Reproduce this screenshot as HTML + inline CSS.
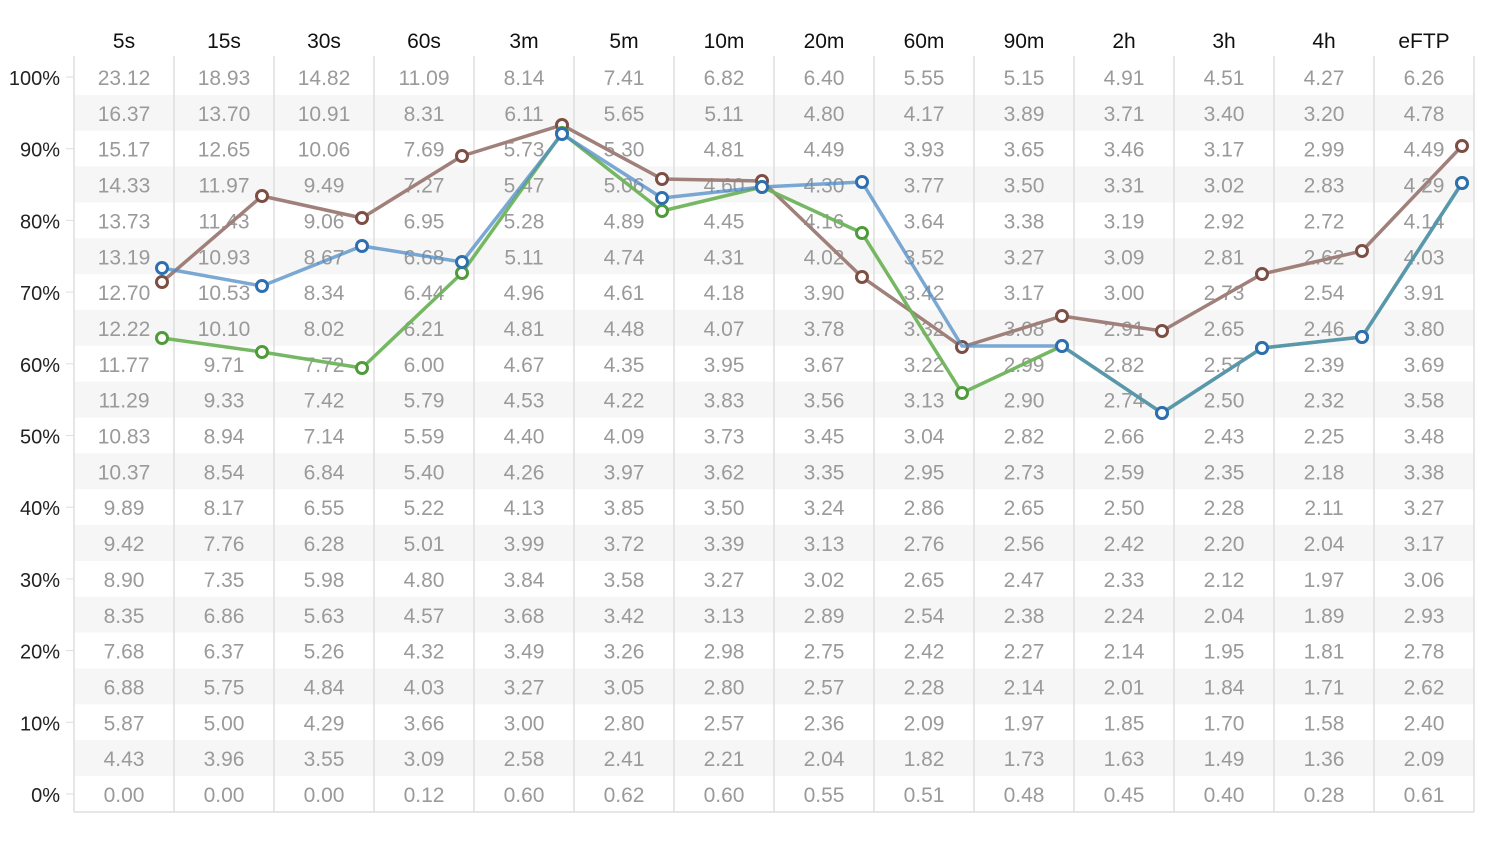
<!DOCTYPE html>
<html><head><meta charset="utf-8"><style>
body{margin:0;background:#fff;width:1496px;height:838px;overflow:hidden;font-family:"Liberation Sans",sans-serif}
</style></head><body>
<svg id="c" width="1496" height="838" xmlns="http://www.w3.org/2000/svg" font-family="Liberation Sans, sans-serif"></svg>
<script>
(function(){
var rows=[
"23.12 18.93 14.82 11.09 8.14 7.41 6.82 6.40 5.55 5.15 4.91 4.51 4.27 6.26",
"16.37 13.70 10.91 8.31 6.11 5.65 5.11 4.80 4.17 3.89 3.71 3.40 3.20 4.78",
"15.17 12.65 10.06 7.69 5.73 5.30 4.81 4.49 3.93 3.65 3.46 3.17 2.99 4.49",
"14.33 11.97 9.49 7.27 5.47 5.06 4.60 4.30 3.77 3.50 3.31 3.02 2.83 4.29",
"13.73 11.43 9.06 6.95 5.28 4.89 4.45 4.16 3.64 3.38 3.19 2.92 2.72 4.14",
"13.19 10.93 8.67 6.68 5.11 4.74 4.31 4.02 3.52 3.27 3.09 2.81 2.62 4.03",
"12.70 10.53 8.34 6.44 4.96 4.61 4.18 3.90 3.42 3.17 3.00 2.73 2.54 3.91",
"12.22 10.10 8.02 6.21 4.81 4.48 4.07 3.78 3.32 3.08 2.91 2.65 2.46 3.80",
"11.77 9.71 7.72 6.00 4.67 4.35 3.95 3.67 3.22 2.99 2.82 2.57 2.39 3.69",
"11.29 9.33 7.42 5.79 4.53 4.22 3.83 3.56 3.13 2.90 2.74 2.50 2.32 3.58",
"10.83 8.94 7.14 5.59 4.40 4.09 3.73 3.45 3.04 2.82 2.66 2.43 2.25 3.48",
"10.37 8.54 6.84 5.40 4.26 3.97 3.62 3.35 2.95 2.73 2.59 2.35 2.18 3.38",
"9.89 8.17 6.55 5.22 4.13 3.85 3.50 3.24 2.86 2.65 2.50 2.28 2.11 3.27",
"9.42 7.76 6.28 5.01 3.99 3.72 3.39 3.13 2.76 2.56 2.42 2.20 2.04 3.17",
"8.90 7.35 5.98 4.80 3.84 3.58 3.27 3.02 2.65 2.47 2.33 2.12 1.97 3.06",
"8.35 6.86 5.63 4.57 3.68 3.42 3.13 2.89 2.54 2.38 2.24 2.04 1.89 2.93",
"7.68 6.37 5.26 4.32 3.49 3.26 2.98 2.75 2.42 2.27 2.14 1.95 1.81 2.78",
"6.88 5.75 4.84 4.03 3.27 3.05 2.80 2.57 2.28 2.14 2.01 1.84 1.71 2.62",
"5.87 5.00 4.29 3.66 3.00 2.80 2.57 2.36 2.09 1.97 1.85 1.70 1.58 2.40",
"4.43 3.96 3.55 3.09 2.58 2.41 2.21 2.04 1.82 1.73 1.63 1.49 1.36 2.09",
"0.00 0.00 0.00 0.12 0.60 0.62 0.60 0.55 0.51 0.48 0.45 0.40 0.28 0.61"];
var hdr="5s 15s 30s 60s 3m 5m 10m 20m 60m 90m 2h 3h 4h eFTP".split(" ");
var gy=59,rh=35.85;
var s="";
for(var r=0;r<21;r++){if(r%2)s+='<rect x="74" y="'+(gy+r*rh)+'" width="1400" height="'+rh+'" fill="#f6f6f6"/>';}
for(var c=0;c<=14;c++){s+='<line x1="'+(74+c*100)+'" y1="56" x2="'+(74+c*100)+'" y2="812" stroke="#dedede" stroke-width="1.5"/>';}
s+='<line x1="74" y1="812" x2="1474" y2="812" stroke="#dedede" stroke-width="1.5"/>';
hdr.forEach(function(h,c){s+='<text x="'+(124+c*100)+'" y="48" font-size="21" text-anchor="middle" fill="#111">'+h+'</text>';});
rows.forEach(function(row,r){row.split(" ").forEach(function(v,c){s+='<text x="'+(124+c*100)+'" y="'+(gy+r*rh+26)+'" font-size="21" text-anchor="middle" fill="#9a9a9a">'+v+'</text>';});});
for(var i=0;i<=10;i++){var y=794-i*71.7;s+='<text x="60" y="'+(y+8)+'" font-size="20" text-anchor="end" fill="#222">'+(i*10)+'%</text><line x1="66" y1="'+y+'" x2="74" y2="'+y+'" stroke="#dedede"/>';}
function series(ys,line,mk,skip,op){var pts=ys.map(function(y,i){return (162+i*100)+","+y;}).join(" ");
var o='<polyline points="'+pts+'" fill="none" stroke="'+line+'" stroke-width="3.5" stroke-opacity="'+op+'" stroke-linejoin="round"/>';
ys.forEach(function(y,i){if(i!==skip)o+='<circle cx="'+(162+i*100)+'" cy="'+y+'" r="5.5" fill="#fff" stroke="'+mk+'" stroke-width="3"/>';});return o;}
var brown=[282,196,218,156,125,179,181,277,347,316,331,274,251,146];
var green=[338,352,368,273,133,211,187,233,393,346,413,348,337,183];
var blue=[268,286,246,262,134,198,187,182,346,346,413,348,337,183];
s+=series(brown,"#a0807a","#7d4e44",-1,1);
s+=series(green,"#6fb35c","#4f9a3b",-1,0.95);
s+=series(blue,"#4f8cc4","#2e6fb0",8,0.75);
document.getElementById("c").innerHTML=s;
})();
</script>
</body></html>
